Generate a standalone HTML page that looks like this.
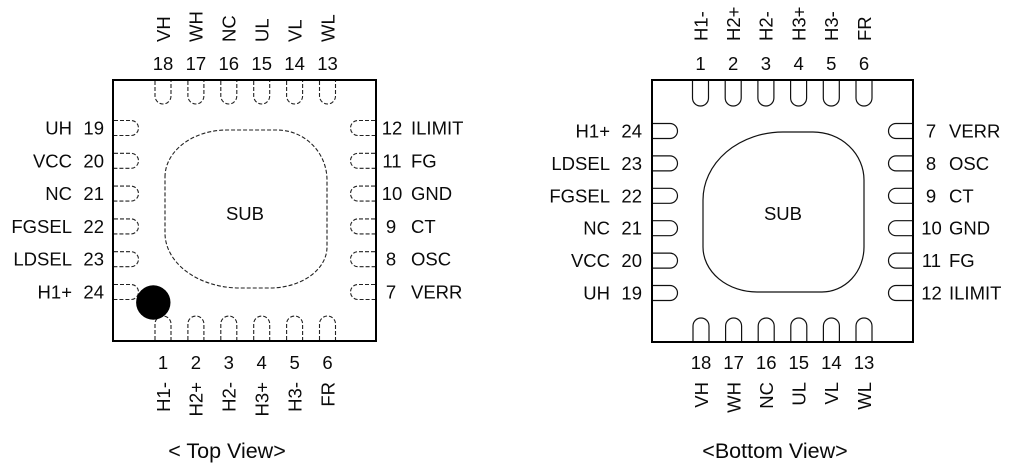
<!DOCTYPE html>
<html><head><meta charset="utf-8"><style>
html,body{margin:0;padding:0;background:#fff;}
svg{display:block;}
text{font-family:"Liberation Sans",Arial,sans-serif;fill:#0a0a0a;}
</style></head><body>
<svg width="1030" height="470" viewBox="0 0 1030 470" xmlns="http://www.w3.org/2000/svg">
<!-- ===== TOP VIEW ===== -->
<rect x="113" y="80" width="263" height="261" fill="none" stroke="#000" stroke-width="2"/>
<g fill="none" stroke="#222" stroke-width="1.1" stroke-dasharray="4 2">
  <path d="M155,81 V96 A8,8 0 0 0 171,96 V81"/>
  <path d="M187.9,81 V96 A8,8 0 0 0 203.9,96 V81"/>
  <path d="M220.8,81 V96 A8,8 0 0 0 236.8,96 V81"/>
  <path d="M253.7,81 V96 A8,8 0 0 0 269.7,96 V81"/>
  <path d="M286.6,81 V96 A8,8 0 0 0 302.6,96 V81"/>
  <path d="M319.5,81 V96 A8,8 0 0 0 335.5,96 V81"/>
  <path d="M155,340 V324 A8,8 0 0 1 171,324 V340"/>
  <path d="M187.9,340 V324 A8,8 0 0 1 203.9,324 V340"/>
  <path d="M220.8,340 V324 A8,8 0 0 1 236.8,324 V340"/>
  <path d="M253.7,340 V324 A8,8 0 0 1 269.7,324 V340"/>
  <path d="M286.6,340 V324 A8,8 0 0 1 302.6,324 V340"/>
  <path d="M319.5,340 V324 A8,8 0 0 1 335.5,324 V340"/>
  <path d="M114,120.5 H131 A7.5,7.5 0 0 1 131,135.5 H114"/>
  <path d="M114,153.3 H131 A7.5,7.5 0 0 1 131,168.3 H114"/>
  <path d="M114,186.1 H131 A7.5,7.5 0 0 1 131,201.1 H114"/>
  <path d="M114,218.9 H131 A7.5,7.5 0 0 1 131,233.9 H114"/>
  <path d="M114,251.7 H131 A7.5,7.5 0 0 1 131,266.7 H114"/>
  <path d="M114,284.5 H131 A7.5,7.5 0 0 1 131,299.5 H114"/>
  <path d="M375,120.5 H358 A7.5,7.5 0 0 0 358,135.5 H375"/>
  <path d="M375,153.3 H358 A7.5,7.5 0 0 0 358,168.3 H375"/>
  <path d="M375,186.1 H358 A7.5,7.5 0 0 0 358,201.1 H375"/>
  <path d="M375,218.9 H358 A7.5,7.5 0 0 0 358,233.9 H375"/>
  <path d="M375,251.7 H358 A7.5,7.5 0 0 0 358,266.7 H375"/>
  <path d="M375,284.5 H358 A7.5,7.5 0 0 0 358,299.5 H375"/>
  <path d="M165,177 A62,47 0 0 1 227,130 H277 A50,50 0 0 1 327,180 V247 A57,41 0 0 1 270,288 H240 A75,55 0 0 1 165,233 Z"/>
</g>
<circle cx="153.3" cy="302.5" r="17.2" fill="#000"/>
<text x="245" y="220" font-size="18.5" text-anchor="middle">SUB</text>

<g font-size="18.5" text-anchor="middle">
  <text x="163" y="70">18</text><text x="195.9" y="70">17</text><text x="228.8" y="70">16</text>
  <text x="261.7" y="70">15</text><text x="294.6" y="70">14</text><text x="327.5" y="70">13</text>
  <text x="163" y="369">1</text><text x="195.9" y="369">2</text><text x="228.8" y="369">3</text>
  <text x="261.7" y="369">4</text><text x="294.6" y="369">5</text><text x="327.5" y="369">6</text>
</g>
<g font-size="18.5" text-anchor="start">
  <text transform="translate(169.8,42) rotate(-90)">VH</text>
  <text transform="translate(202.7,42) rotate(-90)">WH</text>
  <text transform="translate(235.6,42) rotate(-90)">NC</text>
  <text transform="translate(268.5,42) rotate(-90)">UL</text>
  <text transform="translate(301.4,42) rotate(-90)">VL</text>
  <text transform="translate(334.3,42) rotate(-90)">WL</text>
</g>
<g font-size="18.5" text-anchor="end">
  <text transform="translate(169.8,382) rotate(-90)">H1-</text>
  <text transform="translate(202.7,382) rotate(-90)">H2+</text>
  <text transform="translate(235.6,382) rotate(-90)">H2-</text>
  <text transform="translate(268.5,382) rotate(-90)">H3+</text>
  <text transform="translate(301.4,382) rotate(-90)">H3-</text>
  <text transform="translate(334.3,382) rotate(-90)">FR</text>
</g>
<g font-size="18.5" text-anchor="end">
  <text x="104" y="134.5">19</text><text x="72" y="134.5">UH</text>
  <text x="104" y="167.3">20</text><text x="72" y="167.3">VCC</text>
  <text x="104" y="200.1">21</text><text x="72" y="200.1">NC</text>
  <text x="104" y="232.9">22</text><text x="72" y="232.9">FGSEL</text>
  <text x="104" y="265.7">23</text><text x="72" y="265.7">LDSEL</text>
  <text x="104" y="298.5">24</text><text x="72" y="298.5">H1+</text>
</g>
<g font-size="18.5">
  <text x="392" y="134.5" text-anchor="middle">12</text><text x="411" y="134.5">ILIMIT</text>
  <text x="392" y="167.3" text-anchor="middle">11</text><text x="411" y="167.3">FG</text>
  <text x="392" y="200.1" text-anchor="middle">10</text><text x="411" y="200.1">GND</text>
  <text x="391" y="232.9" text-anchor="middle">9</text><text x="411" y="232.9">CT</text>
  <text x="391" y="265.7" text-anchor="middle">8</text><text x="411" y="265.7">OSC</text>
  <text x="391" y="298.5" text-anchor="middle">7</text><text x="411" y="298.5">VERR</text>
</g>
<text x="227" y="458" font-size="21.5" text-anchor="middle">&lt; Top View&gt;</text>

<!-- ===== BOTTOM VIEW ===== -->
<rect x="652" y="80" width="261" height="262" fill="none" stroke="#000" stroke-width="2"/>
<g fill="none" stroke="#111" stroke-width="1.2">
  <path d="M692.5,81 V98 A8,8 0 0 0 708.5,98 V81"/>
  <path d="M725.2,81 V98 A8,8 0 0 0 741.2,98 V81"/>
  <path d="M757.9,81 V98 A8,8 0 0 0 773.9,98 V81"/>
  <path d="M790.6,81 V98 A8,8 0 0 0 806.6,98 V81"/>
  <path d="M823.3,81 V98 A8,8 0 0 0 839.3,98 V81"/>
  <path d="M856,81 V98 A8,8 0 0 0 872,98 V81"/>
  <path d="M693,341 V326 A8,8 0 0 1 709,326 V341"/>
  <path d="M725.6,341 V326 A8,8 0 0 1 741.6,326 V341"/>
  <path d="M758.2,341 V326 A8,8 0 0 1 774.2,326 V341"/>
  <path d="M790.8,341 V326 A8,8 0 0 1 806.8,326 V341"/>
  <path d="M823.4,341 V326 A8,8 0 0 1 839.4,326 V341"/>
  <path d="M856,341 V326 A8,8 0 0 1 872,326 V341"/>
  <path d="M653,123.5 H670 A7.5,7.5 0 0 1 670,138.5 H653"/>
  <path d="M653,155.9 H670 A7.5,7.5 0 0 1 670,170.9 H653"/>
  <path d="M653,188.3 H670 A7.5,7.5 0 0 1 670,203.3 H653"/>
  <path d="M653,220.7 H670 A7.5,7.5 0 0 1 670,235.7 H653"/>
  <path d="M653,253.1 H670 A7.5,7.5 0 0 1 670,268.1 H653"/>
  <path d="M653,285.5 H670 A7.5,7.5 0 0 1 670,300.5 H653"/>
  <path d="M912,123.5 H896 A7.5,7.5 0 0 0 896,138.5 H912"/>
  <path d="M912,155.9 H896 A7.5,7.5 0 0 0 896,170.9 H912"/>
  <path d="M912,188.3 H896 A7.5,7.5 0 0 0 896,203.3 H912"/>
  <path d="M912,220.7 H896 A7.5,7.5 0 0 0 896,235.7 H912"/>
  <path d="M912,253.1 H896 A7.5,7.5 0 0 0 896,268.1 H912"/>
  <path d="M912,285.5 H896 A7.5,7.5 0 0 0 896,300.5 H912"/>
  <path d="M703,200 A80,68 0 0 1 783,132 H813 A51,48 0 0 1 864,180 V247 A42,45 0 0 1 822,292 H757 A54,45 0 0 1 703,247 Z"/>
</g>
<text x="783" y="220" font-size="18.5" text-anchor="middle">SUB</text>

<g font-size="18.5" text-anchor="middle">
  <text x="700.5" y="70">1</text><text x="733.2" y="70">2</text><text x="765.9" y="70">3</text>
  <text x="798.6" y="70">4</text><text x="831.3" y="70">5</text><text x="864" y="70">6</text>
  <text x="701" y="369">18</text><text x="733.6" y="369">17</text><text x="766.2" y="369">16</text>
  <text x="798.8" y="369">15</text><text x="831.4" y="369">14</text><text x="864" y="369">13</text>
</g>
<g font-size="18.5" text-anchor="start">
  <text transform="translate(707.3,41) rotate(-90)">H1-</text>
  <text transform="translate(740,41) rotate(-90)">H2+</text>
  <text transform="translate(772.7,41) rotate(-90)">H2-</text>
  <text transform="translate(805.4,41) rotate(-90)">H3+</text>
  <text transform="translate(838.1,41) rotate(-90)">H3-</text>
  <text transform="translate(870.8,41) rotate(-90)">FR</text>
</g>
<g font-size="18.5" text-anchor="end">
  <text transform="translate(707.8,382) rotate(-90)">VH</text>
  <text transform="translate(740.4,382) rotate(-90)">WH</text>
  <text transform="translate(773,382) rotate(-90)">NC</text>
  <text transform="translate(805.6,382) rotate(-90)">UL</text>
  <text transform="translate(838.2,382) rotate(-90)">VL</text>
  <text transform="translate(870.8,382) rotate(-90)">WL</text>
</g>
<g font-size="18.5" text-anchor="end">
  <text x="642" y="137.5">24</text><text x="610" y="137.5">H1+</text>
  <text x="642" y="169.9">23</text><text x="610" y="169.9">LDSEL</text>
  <text x="642" y="202.3">22</text><text x="610" y="202.3">FGSEL</text>
  <text x="642" y="234.7">21</text><text x="610" y="234.7">NC</text>
  <text x="642" y="267.1">20</text><text x="610" y="267.1">VCC</text>
  <text x="642" y="299.5">19</text><text x="610" y="299.5">UH</text>
</g>
<g font-size="18.5">
  <text x="931" y="137.5" text-anchor="middle">7</text><text x="949" y="137.5">VERR</text>
  <text x="931" y="169.9" text-anchor="middle">8</text><text x="949" y="169.9">OSC</text>
  <text x="931" y="202.3" text-anchor="middle">9</text><text x="949" y="202.3">CT</text>
  <text x="931.5" y="234.7" text-anchor="middle">10</text><text x="949" y="234.7">GND</text>
  <text x="931.5" y="267.1" text-anchor="middle">11</text><text x="949" y="267.1">FG</text>
  <text x="931.5" y="299.5" text-anchor="middle">12</text><text x="949" y="299.5">ILIMIT</text>
</g>
<text x="775" y="458" font-size="21.5" text-anchor="middle">&lt;Bottom View&gt;</text>
</svg>
</body></html>
